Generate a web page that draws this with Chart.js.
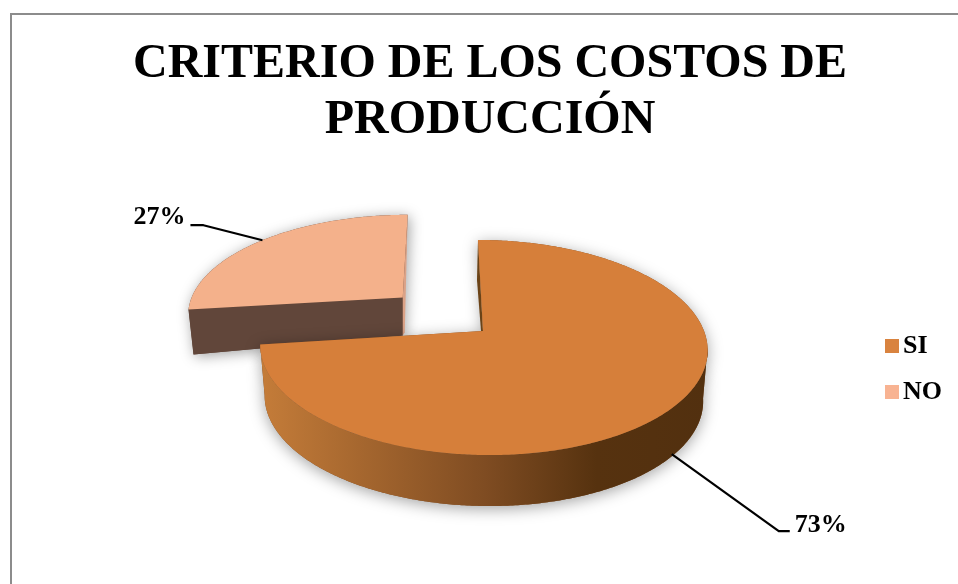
<!DOCTYPE html>
<html><head><meta charset="utf-8">
<script src="https://cdn.jsdelivr.net/npm/chart.js@4"></script>
<style>
html,body{margin:0;padding:0;background:#fff;overflow:hidden}
#wrap{position:relative;width:958px;height:584px}
#bt{position:absolute;left:10px;top:13px;right:0;height:2px;background:#8c8c8c}
#bl{position:absolute;left:10px;top:13px;bottom:0;width:2px;background:#8c8c8c}
canvas{position:absolute;left:0;top:0}
</style></head><body>
<div id="wrap"><canvas id="c" width="958" height="584"></canvas><div id="bt"></div><div id="bl"></div></div>
<script>
const categories = ['SI', 'NO'];
const seriesValues = [73, 27];
const titleLines = ['CRITERIO DE LOS COSTOS DE', 'PRODUCCIÓN'];
const sliceColors = ['#d67f3a', '#f4b18b'];
const swatchColors = ['#d9833f', '#f8b392'];

const FONT = '"Liberation Serif","Times New Roman",serif';
const view = {cx:483, cy:331, ky:0.475, p:0.1535, tilt:105/221};
const look = [
  {scale:1,    yScale:1,    shear:0.055, depth:51},
  {scale:0.955,yScale:0.95, shear:-0.06, depth:45}
];
const leaders = [
  {elbow:[107,77], tail:11, depthShare:0.9, side:1},
  {elbow:[-59,-15], tail:13, depthShare:0, side:-1}
];

function swatch(color){
  const s=document.createElement('canvas'); s.width=22; s.height=14;
  const g=s.getContext('2d'); g.fillStyle=color; g.fillRect(8,0,14,14); return s;
}
function rim(el, st, apex, a, lower){
  const R=el.outerRadius*st.scale, w=1-view.p*Math.sin(a);
  let x=R*Math.cos(a)/w, y=R*st.yScale*view.tilt*Math.sin(a)/w;
  x+=st.shear*y;
  if(lower){x*=0.98; y+=st.depth;}
  return {x:apex.x+x,y:apex.y+y};
}
function trace(ctx, pts, first){
  pts.forEach((q,i)=>{ (i===0&&first)?ctx.moveTo(q.x,q.y):ctx.lineTo(q.x,q.y); });
}
function sweep(el,st,apex,a0,a1,lower){
  const out=[],n=Math.max(2,Math.ceil(Math.abs(a1-a0)/0.01));
  for(let i=0;i<=n;i++) out.push(rim(el,st,apex,a0+(a1-a0)*i/n,lower));
  return out;
}
const pie3d = {
  id:'pie3d',
  beforeDatasetsDraw(chart){
    const ctx=chart.ctx, arcs=chart.getDatasetMeta(0).data;
    [1,0].forEach(i=>{
      const el=arcs[i], st=look[i], off=(el.options.offset||0)/4;
      const mid=(el.startAngle+el.endAngle)/2;
      const apex={x:view.cx+off*Math.cos(mid),y:view.cy+off*Math.sin(mid)*view.ky};
      const top=sweep(el,st,apex,el.startAngle,el.endAngle,false);
      const S=top[0], E=top[top.length-1];
      ctx.save();
      if(i===1){
        const wall=[apex,S,{x:S.x+5,y:S.y+st.depth},{x:apex.x,y:apex.y+38}];
        ctx.save();
        ctx.shadowColor='rgba(0,0,0,0.38)';ctx.shadowBlur=14;ctx.shadowOffsetX=2;ctx.shadowOffsetY=2;
        ctx.fillStyle='#61463a';
        ctx.beginPath();trace(ctx,top,true);ctx.lineTo(apex.x,apex.y+38);ctx.lineTo(S.x+5,S.y+st.depth);ctx.closePath();ctx.fill();
        ctx.restore();
        ctx.fillStyle='#61463a';ctx.beginPath();trace(ctx,wall,true);ctx.closePath();ctx.fill();
        ctx.fillStyle='#dba287';ctx.beginPath();
        ctx.moveTo(E.x,E.y);ctx.lineTo(apex.x+2,apex.y+35);ctx.lineTo(apex.x,apex.y+38);ctx.lineTo(apex.x,apex.y);ctx.closePath();ctx.fill();
      } else {
        const a0=Math.asin(view.p);
        const up=sweep(el,st,apex,a0,el.endAngle,false);
        const lo=sweep(el,st,apex,a0,el.endAngle,true).reverse();
        ctx.save();
        ctx.shadowColor='rgba(0,0,0,0.36)';ctx.shadowBlur=15;ctx.shadowOffsetX=0;ctx.shadowOffsetY=3;
        ctx.fillStyle='#7f4c22';
        ctx.beginPath();trace(ctx,up,true);trace(ctx,lo);ctx.closePath();ctx.fill();
        ctx.beginPath();ctx.moveTo(apex.x,apex.y);trace(ctx,top);ctx.closePath();ctx.fill();
        ctx.restore();
        const g=ctx.createLinearGradient(262,0,708,0);
        g.addColorStop(0,'#c47c39');g.addColorStop(0.5,'#7f4c22');g.addColorStop(0.75,'#56320f');g.addColorStop(1,'#52300f');
        ctx.fillStyle=g;ctx.beginPath();trace(ctx,up,true);trace(ctx,lo);ctx.closePath();ctx.fill();
        ctx.fillStyle='#6b4317';ctx.beginPath();
        ctx.moveTo(S.x,S.y);ctx.lineTo(S.x-1,S.y+40);ctx.lineTo(apex.x-2,apex.y);ctx.lineTo(apex.x,apex.y);ctx.closePath();ctx.fill();
      }
      ctx.fillStyle=el.options.backgroundColor;
      ctx.beginPath();ctx.moveTo(apex.x,apex.y);trace(ctx,top);ctx.closePath();ctx.fill();
      ctx.restore();
    });
    // leader lines and percentage labels
    const total=seriesValues.reduce((a,b)=>a+b,0);
    arcs.forEach((el,i)=>{
      const st=look[i], L=leaders[i], off=(el.options.offset||0)/4;
      const mid=(el.startAngle+el.endAngle)/2;
      const apex={x:view.cx+off*Math.cos(mid),y:view.cy+off*Math.sin(mid)*view.ky};
      const q=rim(el,st,apex,mid,false); q.y+=st.depth*L.depthShare;
      const ex=q.x+L.elbow[0], ey=q.y+L.elbow[1], tx=ex+L.side*L.tail;
      ctx.save();
      ctx.strokeStyle='#000';ctx.lineWidth=2.2;ctx.lineJoin='round';
      ctx.beginPath();ctx.moveTo(q.x,q.y);ctx.lineTo(ex,ey);ctx.lineTo(tx,ey);ctx.stroke();
      ctx.fillStyle='#000';ctx.font='bold 26px '+FONT;ctx.textBaseline='middle';
      ctx.textAlign=L.side>0?'left':'right';
      ctx.fillText(Math.round(seriesValues[i]/total*100)+'%',tx+L.side*5,ey-(L.side>0?6:8));
      ctx.restore();
    });
    return false;
  }
};
new Chart(document.getElementById('c'),{
  type:'pie',
  data:{labels:categories,datasets:[{data:seriesValues,backgroundColor:sliceColors,borderWidth:0,offset:[0,428],radius:221}]},
  plugins:[pie3d],
  options:{
    responsive:false,animation:false,devicePixelRatio:1,cutout:'0%',
    layout:{padding:{left:28,right:6,top:0,bottom:0}},
    plugins:{
      tooltip:{enabled:false},
      title:{display:true,text:titleLines,color:'#000',
        font:{family:FONT,size:48,weight:'bold',lineHeight:1.167},
        padding:{top:37,bottom:5}},
      legend:{display:true,position:'right',fullSize:false,maxWidth:92,
        labels:{color:'#000',font:{family:FONT,size:26,weight:'bold'},
          usePointStyle:true,pointStyleWidth:4,boxHeight:14,padding:20,
          generateLabels(chart){
            return categories.map((t,i)=>({text:t,index:i,fillStyle:swatchColors[i],strokeStyle:swatchColors[i],lineWidth:0,fontColor:'#000',pointStyle:swatch(swatchColors[i]),hidden:false}));
          }}}
    }
  }
});
</script>
</body></html>
